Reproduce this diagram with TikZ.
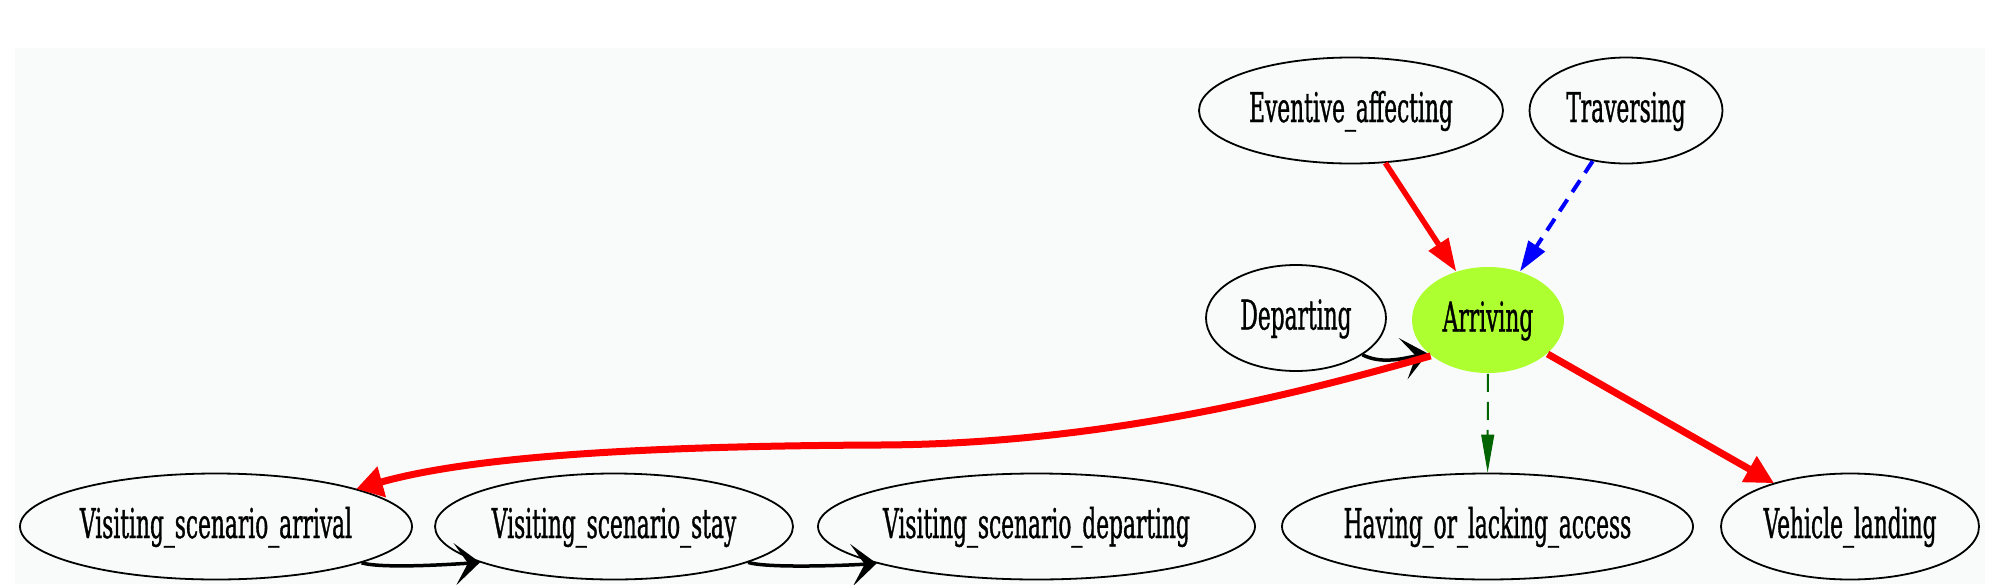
\documentclass[tikz,border=0pt]{standalone}
\usepackage{fontspec}
\setmainfont{DejaVu Serif}[FakeStretch=0.53,FakeBold=0.8]
\usetikzlibrary{shapes.geometric,arrows.meta}
\definecolor{bgc}{HTML}{F9FBFA}
\definecolor{gy}{HTML}{ADFF2F}
\definecolor{dgreen}{HTML}{006400}
\begin{document}
\begin{tikzpicture}[x=1pt,y=-1pt,
  frame/.style={ellipse, draw=black, line width=1.8pt, inner sep=0pt,
    font=\fontsize{41}{41}\selectfont, text height=30pt, text depth=7pt,
    minimum height=106pt},
  hub/.style={frame, draw=none, fill=gy},
  redA/.style={draw=red, line width=5.5pt, -{Triangle[length=32pt,width=24pt,line width=1pt]}},
  blueA/.style={draw=blue, line width=4pt, dash pattern=on 14pt off 9pt,
    -{Triangle[length=30pt,width=20pt,line width=1pt]}},
  greenA/.style={draw=dgreen, line width=2pt, dash pattern=on 18pt off 10pt,
    -{Triangle[length=38pt,width=13pt,line width=1pt]}},
  blackA/.style={draw=black, line width=3.5pt,
    -{Stealth[length=25pt,width=42pt,inset=13pt,line width=3pt]}}
]
\useasboundingbox (0,0) rectangle (2014,584);
\fill[bgc] (15,48) rectangle (1985,584);

\node[frame, minimum width=304pt] (ev)  at (1351,110.5) {Eventive\_affecting};
\node[frame, minimum width=193pt] (tr)  at (1626,110.5) {Traversing};
\node[frame, minimum width=180pt] (dep) at (1296,318) {Departing};
\node[hub,   minimum width=152pt] (arr) at (1488,320) {Arriving};
\node[frame, minimum width=392pt] (vsa) at (216,526.5) {Visiting\_scenario\_arrival};
\node[frame, minimum width=358pt] (vss) at (614,526.5) {Visiting\_scenario\_stay};
\node[frame, minimum width=437pt] (vsd) at (1036.5,526.5) {Visiting\_scenario\_departing};
\node[frame, minimum width=411pt] (hla) at (1487.5,526.5) {Having\_or\_lacking\_access};
\node[frame, minimum width=258pt] (vl)  at (1850,526.5) {Vehicle\_landing};

\draw[redA] (ev) -- (arr);
\draw[blueA] (tr) -- (arr);
\draw[blackA] (dep.331) .. controls +(18,9) and +(-28,6) .. (arr.209);
\draw[greenA] (arr) -- (hla);
\draw[redA, line width=7pt, -{Triangle[length=28pt,width=30pt,line width=1pt]}] (arr) -- (vl);
\draw[redA, line width=7pt, -{Triangle[length=26pt,width=32pt,line width=1pt]}]
  (arr.212) .. controls +(-140,40) and (1100,444) .. (880,445)
  .. controls (660,446) and +(123,-34) .. (vsa.15);
\draw[blackA] (vsa.346) .. controls +(20,6) and +(-30,2) .. (vss.195);
\draw[blackA] (vss.345) .. controls +(20,6) and +(-30,2) .. (vsd.193);
\end{tikzpicture}
\end{document}
